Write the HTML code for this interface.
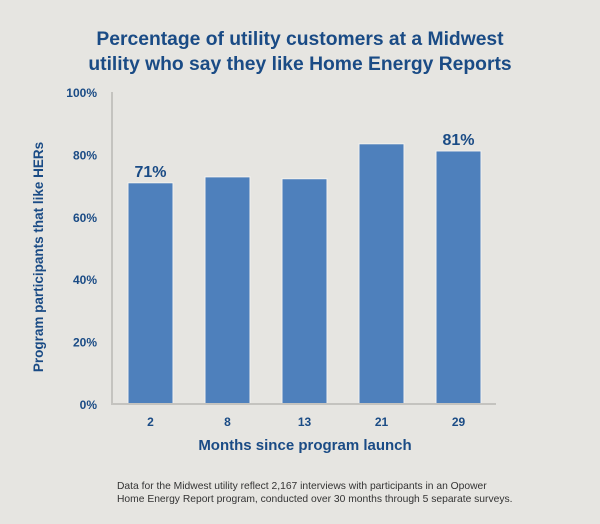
<!DOCTYPE html>
<html><head><meta charset="utf-8"><style>
body{margin:0;background:#e6e5e1;font-family:"Liberation Sans",sans-serif;}
#wrap{position:relative;width:600px;height:524px;background:#e6e5e1;overflow:hidden}
</style></head><body>
<div id="wrap">
<svg id="chart" width="600" height="524">
<text x="300" y="45" text-anchor="middle" font-size="19.3" font-weight="bold" fill="#1a4b85">Percentage of utility customers at a Midwest</text>
<text x="300" y="70" text-anchor="middle" font-size="19.3" font-weight="bold" fill="#1a4b85">utility who say they like Home Energy Reports</text>
<text transform="translate(43,257) rotate(-90)" text-anchor="middle" font-size="13.5" font-weight="bold" fill="#1a4b85">Program participants that like HERs</text>
<text x="305" y="450" text-anchor="middle" font-size="15" font-weight="bold" fill="#1a4b85">Months since program launch</text>
<text x="117" y="489" font-size="10.3" fill="#333">Data for the Midwest utility reflect 2,167 interviews with participants in an Opower</text>
<text x="117" y="502" font-size="10.3" fill="#333">Home Energy Report program, conducted over 30 months through 5 separate surveys.</text>
<g id="marks"></g>
</svg>
</div>
<script>
const categories=["2","8","13","21","29"];
const values=[70.9,72.8,72.2,83.4,81.1];
const labels=["71%",null,null,null,"81%"];
const yTicks=[0,20,40,60,80,100];
const yTickLabels=["0%","20%","40%","60%","80%","100%"];
const NS="http://www.w3.org/2000/svg";
const g=document.getElementById('marks');
const x0=112,band=77,barW=45,off=16,y0=404,yTop=92;
function y(v){return y0-(v/100)*(y0-yTop);}
function xb(i){return x0+off+i*band;}
function mk(t,a){const e=document.createElementNS(NS,t);for(const k in a)e.setAttribute(k,a[k]);g.appendChild(e);return e;}
yTicks.forEach((v,i)=>{
 const t=mk('text',{x:97,y:y(v)+5,'text-anchor':'end','font-size':12,'font-weight':'bold',fill:'#1a4b85'});
 t.textContent=yTickLabels[i];
 
 
});
values.forEach((v,i)=>{
 const r=mk('rect',{x:xb(i),y:y(v),width:barW,height:y0-y(v),fill:'#4e80bc',stroke:'#f2f1ee','stroke-width':1});
 
 
 const t=mk('text',{x:xb(i)+barW/2,y:y0+22,'text-anchor':'middle','font-size':12,'font-weight':'bold',fill:'#1a4b85'});
 t.textContent=categories[i];
 
 
 if(labels[i]){
  const l=mk('text',{x:xb(i)+barW/2,y:y(v)-6,'text-anchor':'middle','font-size':16,'font-weight':'bold',fill:'#1a4b85'});
  l.textContent=labels[i];
  
  
 }
});
const ax=mk('path',{d:`M${x0},${yTop} V${y0} H496`,stroke:'#c4c3bf','stroke-width':2,fill:'none'});


</script>
</body></html>
